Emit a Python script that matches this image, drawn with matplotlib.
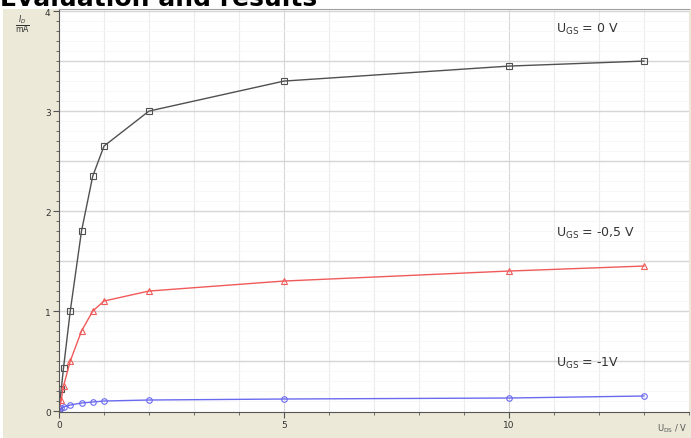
import matplotlib.pyplot as plt
from matplotlib.patches import Rectangle
from matplotlib.ticker import MultipleLocator, FixedLocator

# measured points, U_DS in V, I_D in mA
u_ds = [0, 0.05, 0.1, 0.25, 0.5, 0.75, 1, 2, 5, 10, 13]
i_d_0v = [0, 0.22, 0.43, 1.0, 1.8, 2.35, 2.65, 3.0, 3.3, 3.45, 3.5]
i_d_05v = [0, 0.11, 0.25, 0.5, 0.8, 1.0, 1.1, 1.2, 1.3, 1.4, 1.45]
i_d_1v = [0, 0.03, 0.04, 0.06, 0.08, 0.09, 0.1, 0.11, 0.12, 0.13, 0.15]

labels = [r'U$_{\mathregular{GS}}$ = 0 V', r'U$_{\mathregular{GS}}$ = -0,5 V', r'U$_{\mathregular{GS}}$ = -1V']
label_y = [3.79, 1.75, 0.45]

fig = plt.figure(figsize=(6.91, 4.39), dpi=100)
fig.patch.set_facecolor('white')
fig.patches.append(Rectangle((0.005, 0), 0.995, 0.977, transform=fig.transFigure,
                             facecolor='#ECE9D8', edgecolor='none', zorder=-10))

ax = fig.add_axes([0.0854, 0.0592, 0.9116, 0.9178])
ax.set_facecolor('white')

ax.plot(u_ds, i_d_0v, color='#505050', lw=1, marker='s', ms=4, mfc='none', mec='#505050', mew=0.8)
ax.plot(u_ds, i_d_05v, color='#F05A5A', lw=1, marker='^', ms=4, mfc='none', mec='#F05A5A', mew=0.8)
ax.plot(u_ds, i_d_1v, color='#6A6AF0', lw=1, marker='o', ms=4, mfc='none', mec='#6A6AF0', mew=0.8)

for txt, yy in zip(labels, label_y):
    ax.text(11.05, yy, txt, fontsize=9, color='#333333', va='baseline')

ax.set_xlim(0, 14)
ax.set_ylim(-0.01, 4.02)

ax.xaxis.set_major_locator(FixedLocator([0, 5, 10]))
ax.xaxis.set_minor_locator(MultipleLocator(1))
ax.yaxis.set_major_locator(MultipleLocator(1))
ax.yaxis.set_minor_locator(MultipleLocator(0.1))

# grid lines
for x in range(1, 15):
    c = '#d8d8d8' if x % 5 == 0 else '#ececec'
    ax.axvline(x, color=c, lw=0.8, zorder=0)
for k in range(1, 41):
    y = k / 10
    c = '#d6d6d6' if k % 5 == 0 else '#f6f6f6'
    ax.axhline(y, color=c, lw=1.0 if k % 5 == 0 else 0.6, zorder=0)

ax.tick_params(axis='both', which='major', labelsize=6.5, labelcolor='#333333',
               color='#555555', length=4, width=0.8, pad=2)
ax.tick_params(axis='both', which='minor', color='#555555', length=2, width=0.6)

ax.spines['right'].set_visible(False)
ax.spines['top'].set_color('#a0a0a0')
ax.spines['left'].set_color('#555555')
ax.spines['bottom'].set_color('#555555')

fig.text(0.0, 0.987, 'Evaluation and results', fontsize=18, fontweight='bold', va='baseline')
fig.text(0.022, 0.945, r'$\frac{I_D}{\mathrm{mA}}$', fontsize=8, color='#333333', va='center')
fig.text(0.995, 0.008, r'U$_{\mathregular{DS}}$ / V', fontsize=6, color='#555555', ha='right', va='bottom')

fig.savefig('out.png', dpi=100)
